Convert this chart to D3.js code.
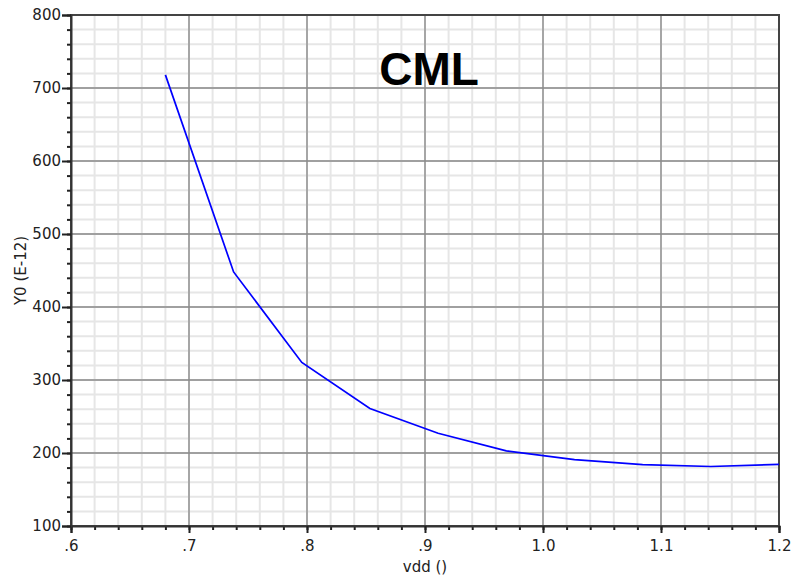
<!DOCTYPE html>
<html>
<head>
<meta charset="utf-8">
<script src="https://cdn.jsdelivr.net/npm/d3@7"></script>
<style>
  body { margin: 0; background: #fff; }
  svg { display: block; }
  .tick text { font-family: "DejaVu Sans", sans-serif; font-size: 15px; fill: #222; }
</style>
</head>
<body>
<svg id="vis" width="792" height="577"></svg>
<script>
// values
var vdd = [0.68, 0.7378, 0.7956, 0.8533, 0.9111, 0.9689, 1.0267, 1.0844, 1.1422, 1.2];
var y0 = [718, 448, 324, 261, 227, 203, 191, 184, 181.5, 184.5];

var xTicks = [0.6, 0.7, 0.8, 0.9, 1.0, 1.1, 1.2];
var xTickLabels = [".6", ".7", ".8", ".9", "1.0", "1.1", "1.2"];
var yTicks = [100, 200, 300, 400, 500, 600, 700, 800];

var TITLE = "CML";
var X_LABEL = "vdd ()";
var Y_LABEL = "Y0 (E-12)";

var margin = {top: 15, right: 13, bottom: 51, left: 71};
var _vis = d3.select("#vis");
var width = 792 - margin.left - margin.right;
var height = 577 - margin.top - margin.bottom;

var xScale = d3.scaleLinear().domain([0.6, 1.2]).range([0, width]);
var yScale = d3.scaleLinear().domain([100, 800]).range([height, 0]);

var g = _vis.append("g").attr("transform", "translate(" + margin.left + "," + margin.top + ")");

// minor grid
g.append("g").selectAll("line.vminor")
    .data(xScale.ticks(30))
    .enter().append("line")
    .attr("x1", d => xScale(d)).attr("x2", d => xScale(d))
    .attr("y1", 0).attr("y2", height)
    .attr("stroke", "#e6e6e6").attr("stroke-width", 2);
g.append("g").selectAll("line.hminor")
    .data(yScale.ticks(35))
    .enter().append("line")
    .attr("x1", 0).attr("x2", width)
    .attr("y1", d => yScale(d)).attr("y2", d => yScale(d))
    .attr("stroke", "#e6e6e6").attr("stroke-width", 2);

// major grid
g.append("g").selectAll("line")
    .data(xTicks)
    .enter().append("line")
    .attr("x1", d => xScale(d)).attr("x2", d => xScale(d))
    .attr("y1", 0).attr("y2", height)
    .attr("stroke", "#a6a6a6").attr("stroke-width", 2);
g.append("g").selectAll("line")
    .data(yTicks)
    .enter().append("line")
    .attr("x1", 0).attr("x2", width)
    .attr("y1", d => yScale(d)).attr("y2", d => yScale(d))
    .attr("stroke", "#888").attr("stroke-width", 1.6);

// frame
g.append("rect")
    .attr("x", 0).attr("y", 0).attr("width", width).attr("height", height)
    .attr("fill", "none").attr("stroke", "#444").attr("stroke-width", 2);

// minor ticks
g.append("g")
    .attr("transform", "translate(0," + height + ")")
    .call(d3.axisBottom(xScale).tickValues(xScale.ticks(30)).tickSize(4).tickFormat(""))
    .call(s => s.select(".domain").remove())
    .selectAll("line").attr("stroke", "#222").attr("stroke-width", 2);
g.append("g")
    .call(d3.axisLeft(yScale).tickValues(yScale.ticks(35)).tickSize(4).tickFormat(""))
    .call(s => s.select(".domain").remove())
    .selectAll("line").attr("stroke", "#222").attr("stroke-width", 2);

// major axes
var xAxis = g.append("g")
    .attr("transform", "translate(0," + height + ")")
    .call(d3.axisBottom(xScale).tickValues(xTicks).tickSize(7).tickPadding(7)
        .tickFormat((d, i) => xTickLabels[i]));
xAxis.select(".domain").attr("stroke", "#333").attr("stroke-width", 2);
xAxis.selectAll("line").attr("stroke", "#222").attr("stroke-width", 2);

var yAxis = g.append("g")
    .call(d3.axisLeft(yScale).tickValues(yTicks).tickSize(9).tickPadding(1));
yAxis.select(".domain").attr("stroke", "#333").attr("stroke-width", 2);
yAxis.selectAll("line").attr("stroke", "#222").attr("stroke-width", 2);

// curve
var line = d3.line()
    .x((d, i) => xScale(vdd[i]))
    .y(d => yScale(d));
g.append("path")
    .datum(y0)
    .attr("d", line)
    .attr("fill", "none")
    .attr("stroke", "#0000ff")
    .attr("stroke-width", 1.7);

// title
g.append("text")
    .attr("x", 358).attr("y", 70)
    .attr("text-anchor", "middle")
    .attr("style", "font-family: 'Liberation Sans', Arial, sans-serif; font-weight: bold; font-size: 46px; fill: #000;")
    .text(TITLE);

// axis labels
_vis.append("text")
    .attr("x", margin.left + width / 2).attr("y", 572)
    .attr("text-anchor", "middle")
    .attr("style", "font-family: 'DejaVu Sans', sans-serif; font-size: 15px; fill: #222;")
    .text(X_LABEL);

_vis.append("text")
    .attr("transform", "translate(26," + (margin.top + height / 2) + ") rotate(-90)")
    .attr("text-anchor", "middle")
    .attr("style", "font-family: 'DejaVu Sans', sans-serif; font-size: 15px; fill: #222;")
    .text(Y_LABEL);
</script>
</body>
</html>
